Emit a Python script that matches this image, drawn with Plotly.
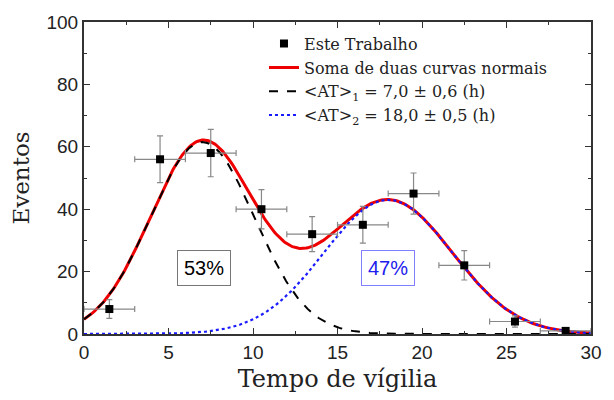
import numpy as np
import plotly.graph_objects as go

# Measured histogram of wake time (bins of 3 h)
tempo = [1.5, 4.5, 7.5, 10.5, 13.5, 16.5, 19.5, 22.5, 25.5, 28.5]
eventos = [8, 56, 58, 40, 32, 35, 45, 22, 4, 1]
erro_y = [3.0, 7.5, 7.6, 6.3, 5.6, 5.9, 6.6, 4.7, 1.8, 0.8]
erro_x = [1.5] * 10

# Fitted normal components: amplitude, mean, sigma
comp1 = dict(amp=61.5, media=7.0, sigma=3.09)
comp2 = dict(amp=43.0, media=18.0, sigma=3.8)

# Share of each component
frac_labels = ["53%", "47%"]


def normal(x, c):
    return c["amp"] * np.exp(-((x - c["media"]) ** 2) / (2 * c["sigma"] ** 2))


xs = np.linspace(0, 30, 400)
g1 = normal(xs, comp1)
g2 = normal(xs, comp2)
soma = g1 + g2

serif = "DejaVu Serif"
sans = "Liberation Sans"

fig = go.Figure()

# Sum curve underneath, components drawn over it
fig.add_trace(go.Scatter(
    x=xs, y=soma, mode="lines", name="Soma de duas curvas normais",
    line=dict(color="#ee0000", width=3), legendrank=2,
))
fig.add_trace(go.Scatter(
    x=xs, y=g1, mode="lines", name="&lt;AT&gt;<sub>1</sub> = 7,0 ± 0,6 (h)",
    line=dict(color="black", width=2, dash="dash"), legendrank=3,
))
fig.add_trace(go.Scatter(
    x=xs, y=g2, mode="lines", name="&lt;AT&gt;<sub>2</sub> = 18,0 ± 0,5 (h)",
    line=dict(color="#1a1aff", width=2.2, dash="dot"), legendrank=4,
))
fig.add_trace(go.Scatter(
    x=tempo, y=eventos, mode="markers", name="Este Trabalho",
    marker=dict(symbol="square", size=8, color="black"),
    error_y=dict(type="data", array=erro_y, color="#888888", thickness=1.2, width=3),
    error_x=dict(type="data", array=erro_x, color="#888888", thickness=1.2, width=3),
    legendrank=1,
))

fig.add_annotation(
    x=comp1["media"] + 0.1, y=21, text=frac_labels[0], showarrow=False,
    font=dict(family=sans, size=20, color="black"),
    bordercolor="#777777", borderwidth=1, borderpad=6, bgcolor="white",
)
fig.add_annotation(
    x=comp2["media"], y=21, text=frac_labels[1], showarrow=False,
    font=dict(family=sans, size=20, color="#2020ee"),
    bordercolor="#8080ff", borderwidth=1, borderpad=6, bgcolor="white",
)

axis_common = dict(
    showline=True, linecolor="#333333", linewidth=2, mirror="ticks",
    ticks="inside", ticklen=6, tickcolor="#333333", tickwidth=1,
    showgrid=False, zeroline=False,
    tickfont=dict(family=sans, size=19, color="#222222"),
)

fig.update_xaxes(
    range=[0, 30], tick0=0, dtick=5,
    minor=dict(ticks="inside", ticklen=3, dtick=2.5, tickcolor="#333333"),
    title=dict(text="Tempo de vígilia", font=dict(family=serif, size=24, color="#222222"), standoff=8),
    **axis_common,
)
fig.update_yaxes(
    range=[0, 100], tick0=0, dtick=20,
    minor=dict(ticks="inside", ticklen=3, dtick=10, tickcolor="#333333"),
    title=dict(text="Eventos", font=dict(family=serif, size=23, color="#222222"), standoff=10),
    **axis_common,
)

fig.update_layout(
    width=614, height=400,
    margin=dict(l=84, r=17, t=19, b=64),
    plot_bgcolor="white", paper_bgcolor="white",
    showlegend=True,
    legend=dict(
        x=0.355, y=0.985, xanchor="left", yanchor="top",
        bgcolor="rgba(0,0,0,0)", borderwidth=0,
        font=dict(family=serif, size=16, color="#222222"),
        tracegroupgap=0, itemwidth=30,
    ),
)

fig.write_html("out.html")
